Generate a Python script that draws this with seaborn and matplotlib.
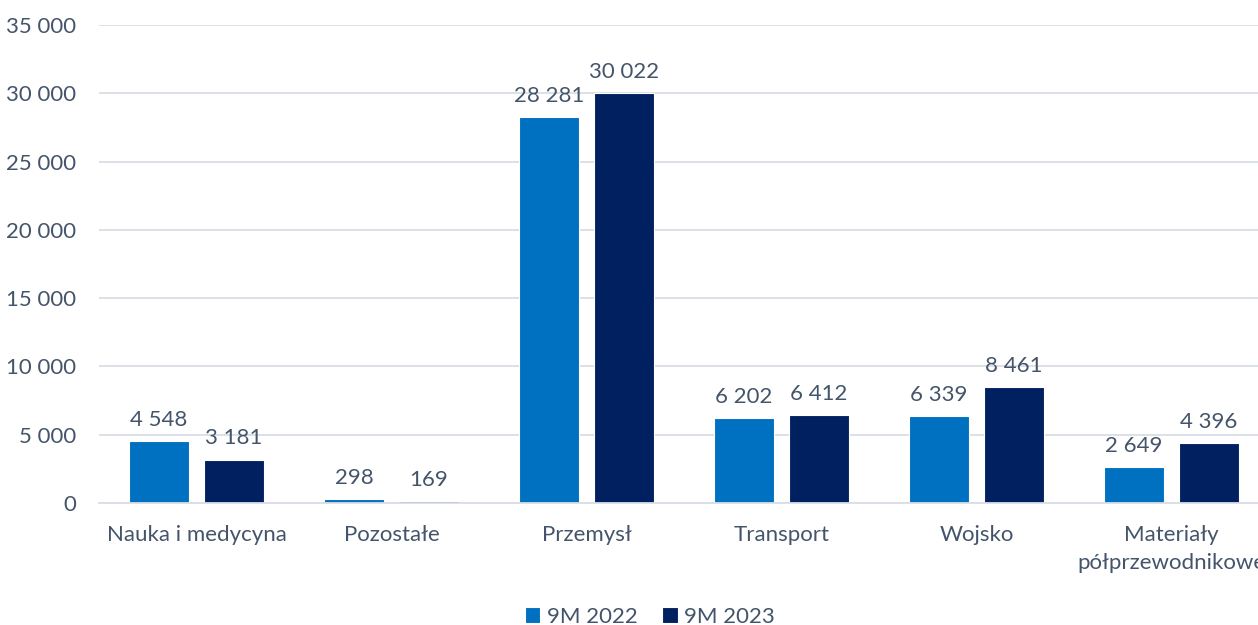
import matplotlib
matplotlib.use("Agg")
import matplotlib.pyplot as plt
import seaborn as sns
import pandas as pd

categories = ["Nauka i medycyna", "Pozostałe", "Przemysł", "Transport", "Wojsko",
              "Materiały\npółprzewodnikowe"]
series_names = ["9M 2022", "9M 2023"]
values_2022 = [4548, 298, 28281, 6202, 6339, 2649]
values_2023 = [3181, 169, 30022, 6412, 8461, 4396]
y_ticks = [0, 5000, 10000, 15000, 20000, 25000, 30000, 35000]

colors = ["#0070C0", "#002060"]
text_color = "#44546A"
grid_color = "#D9DEE5"

df = pd.DataFrame({
    "cat": categories * 2,
    "series": [series_names[0]] * len(categories) + [series_names[1]] * len(categories),
    "value": values_2022 + values_2023,
})

sns.set_theme(style="white")
plt.rcParams["font.family"] = ["Lato", "DejaVu Sans"]

FS = 16
W, H = 1258, 625
fig = plt.figure(figsize=(W / 100, H / 100), dpi=100)
left_px, right_px = 99, 1258
bottom_px, top_px = 503, 25
ax = fig.add_axes([left_px / W, (H - bottom_px) / H, (right_px - left_px) / W, (bottom_px - top_px) / H])

sns.barplot(data=df, x="cat", y="value", hue="series", palette=colors, ax=ax,
            width=0.77, gap=0.2, saturation=1, errorbar=None,
            edgecolor="white", linewidth=0.8, legend=True)

cat_w = 195.0
ax.set_xlim(-0.5, -0.5 + (right_px - left_px) / cat_w)
ax.set_ylim(0, 35000)
ax.set_yticks(y_ticks)
ax.set_yticklabels([f"{v:,}".replace(",", " ") for v in y_ticks])
ax.grid(axis="y", color=grid_color, linewidth=1.3)
ax.set_axisbelow(True)
for s in ["top", "right", "left"]:
    ax.spines[s].set_visible(False)
ax.spines["bottom"].set_color(grid_color)
ax.spines["bottom"].set_linewidth(1.3)
ax.tick_params(axis="y", length=0, pad=16.5, labelsize=FS, labelcolor=text_color)
ax.tick_params(axis="x", length=0, pad=15.5, labelsize=FS, labelcolor=text_color)
for lab in ax.get_xticklabels():
    lab.set_linespacing(1.55)
ax.set_xlabel("")
ax.set_ylabel("")

for cont in ax.containers:
    labels = [f"{int(round(b.get_height())):,}".replace(",", " ") for b in cont]
    ax.bar_label(cont, labels=labels, padding=8, fontsize=FS, color=text_color)

leg = ax.legend(loc="center", bbox_to_anchor=(650 / W, 1 - 617 / H),
                bbox_transform=fig.transFigure, ncol=2, frameon=False,
                fontsize=FS, handlelength=0.7, handleheight=0.7,
                handletextpad=0.3, columnspacing=1.1)
for t in leg.get_texts():
    t.set_color(text_color)

fig.savefig("out.png", dpi=100)
